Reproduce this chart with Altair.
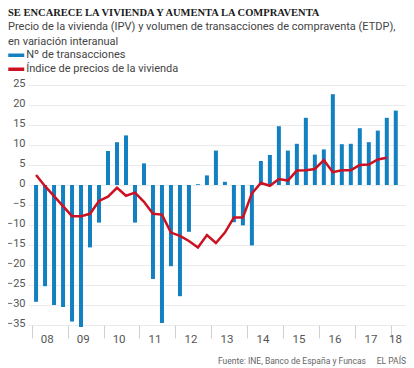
import altair as alt
import pandas as pd

TITLE = "SE ENCARECE LA VIVIENDA Y AUMENTA LA COMPRAVENTA"
SUBTITLE = [
    "Precio de la vivienda (IPV) y volumen de transacciones de compraventa (ETDP),",
    "en variación interanual",
]
SERIES = ["Nº de transacciones", "Índice de precios de la vivienda"]
SOURCE = "Fuente: INE, Banco de España y Funcas"
BRAND = "EL PAÍS"

years = [y for y in range(2008, 2018) for _ in range(4)] + [2018]
quarters = [1, 2, 3, 4] * 10 + [1]

transacciones = [-29.2, -25.3, -30.0, -30.5, -34.1, -35.5, -15.6, -9.4,
                 8.5, 10.7, 12.4, -9.4, 5.4, -23.5, -34.5, -20.3,
                 -27.8, -11.7, 0.2, 2.4, 8.6, 0.8, -9.3, -10.1,
                 -15.1, 6.0, 7.5, 14.7, 8.6, 10.3, 16.8, 7.6,
                 8.9, 22.7, 10.2, 10.3, 14.2, 10.7, 13.6, 16.8,
                 18.6]
ipv = [2.5, -0.3, -2.8, -5.3, -7.8, -7.8, -7.2, -4.0,
       -2.9, -0.7, -2.7, -1.9, -4.2, -7.2, -7.4, -11.9,
       -12.7, -14.0, -15.6, -12.5, -14.5, -11.9, -8.1, -8.1,
       -2.1, 0.5, -0.2, 1.5, 1.1, 3.6, 3.7, 4.0,
       6.2, 3.2, 3.7, 3.7, 5.0, 5.1, 6.4, 6.8]

year_ticks = list(range(2008, 2019))
year_label_pos = [y + 0.42 for y in range(2008, 2018)] + [2018.1]
y_ticks = list(range(-35, 30, 5))

BLUE = "#1380c2"
RED = "#cc1122"

t = [y + (q - 0.5) / 4 for y, q in zip(years, quarters)]
df_bar = pd.DataFrame({"t": t, "trans": transacciones})
df_line = pd.DataFrame({"t": t[:len(ipv)], "ipv": ipv, "serie": SERIES[1]})

xscale = alt.Scale(domain=[2008.04, 2018.27], nice=False, zero=False)
yscale = alt.Scale(domain=[-35.5, 25], nice=False)

yaxis = alt.Axis(values=y_ticks, grid=True, gridColor="#ebebeb", domain=False,
                 ticks=False, labelPadding=3, title=None, labelFont="Roboto",
                 labelFontSize=11, labelColor="#555555", labelOverlap=False,
                 labelOffset=-2)

bars = alt.Chart(df_bar).mark_bar(size=4, color=BLUE).encode(
    x=alt.X("t:Q", scale=xscale,
            axis=alt.Axis(orient="bottom", values=year_ticks, labels=False, ticks=True,
                          tickSize=13, tickColor="#d0d0d0", domain=False, grid=False,
                          title=None, offset=-2)),
    y=alt.Y("trans:Q", scale=yscale, axis=yaxis),
)

line = alt.Chart(df_line).mark_line(strokeWidth=2.5).encode(
    x=alt.X("t:Q", scale=xscale,
            axis=alt.Axis(orient="bottom", values=year_label_pos, ticks=False, domain=False,
                          grid=False, title=None,
                          labelExpr="format(floor(datum.value) % 100, '02d')",
                          labelFont="Roboto", labelFontSize=11.5, labelColor="#555555",
                          labelPadding=6, labelFlush=False, labelOverlap=False)),
    y=alt.Y("ipv:Q", scale=yscale, axis=yaxis),
    color=alt.Color("serie:N",
                    scale=alt.Scale(domain=SERIES, range=[BLUE, RED]),
                    legend=alt.Legend(orient="none", legendX=-18.75, legendY=-36.75,
                                      title=None, symbolType="M-1.6,0H1.6", symbolSize=100,
                                      symbolStrokeWidth=3.5, labelFont="Roboto",
                                      labelFontSize=11, labelColor="#444444",
                                      labelOffset=3, rowPadding=0, padding=0)),
)

df_src = pd.DataFrame({"txt": [SOURCE]})
df_brand = pd.DataFrame({"txt": [BRAND]})
src = alt.Chart(df_src).mark_text(align="left", baseline="alphabetic", font="Roboto",
                                  fontSize=8.5, color="#666666").encode(
    x=alt.value(190), y=alt.value(279), text="txt:N")
brand = alt.Chart(df_brand).mark_text(align="right", baseline="alphabetic", font="Roboto",
                                      fontSize=8.5, color="#666666").encode(
    x=alt.value(378), y=alt.value(279), text="txt:N")

chart = alt.layer(bars, line, src, brand).resolve_axis(x="independent").properties(
    width=378, height=242,
    title=alt.TitleParams(text=TITLE, subtitle=SUBTITLE, anchor="start", frame="group",
                          dx=-20, font="Liberation Serif", fontSize=10.5, fontWeight="bold",
                          color="#1a1a1a", subtitleFont="Roboto", subtitleFontSize=11,
                          subtitleColor="#444444", subtitleLineHeight=15,
                          subtitlePadding=3, offset=1),
    autosize=alt.AutoSizeParams(type="none"),
    padding={"left": 20, "top": 77, "right": 0, "bottom": 40},
).configure_view(stroke=None)

chart.save("out.html", embed_options={"renderer": "svg", "actions": False})
